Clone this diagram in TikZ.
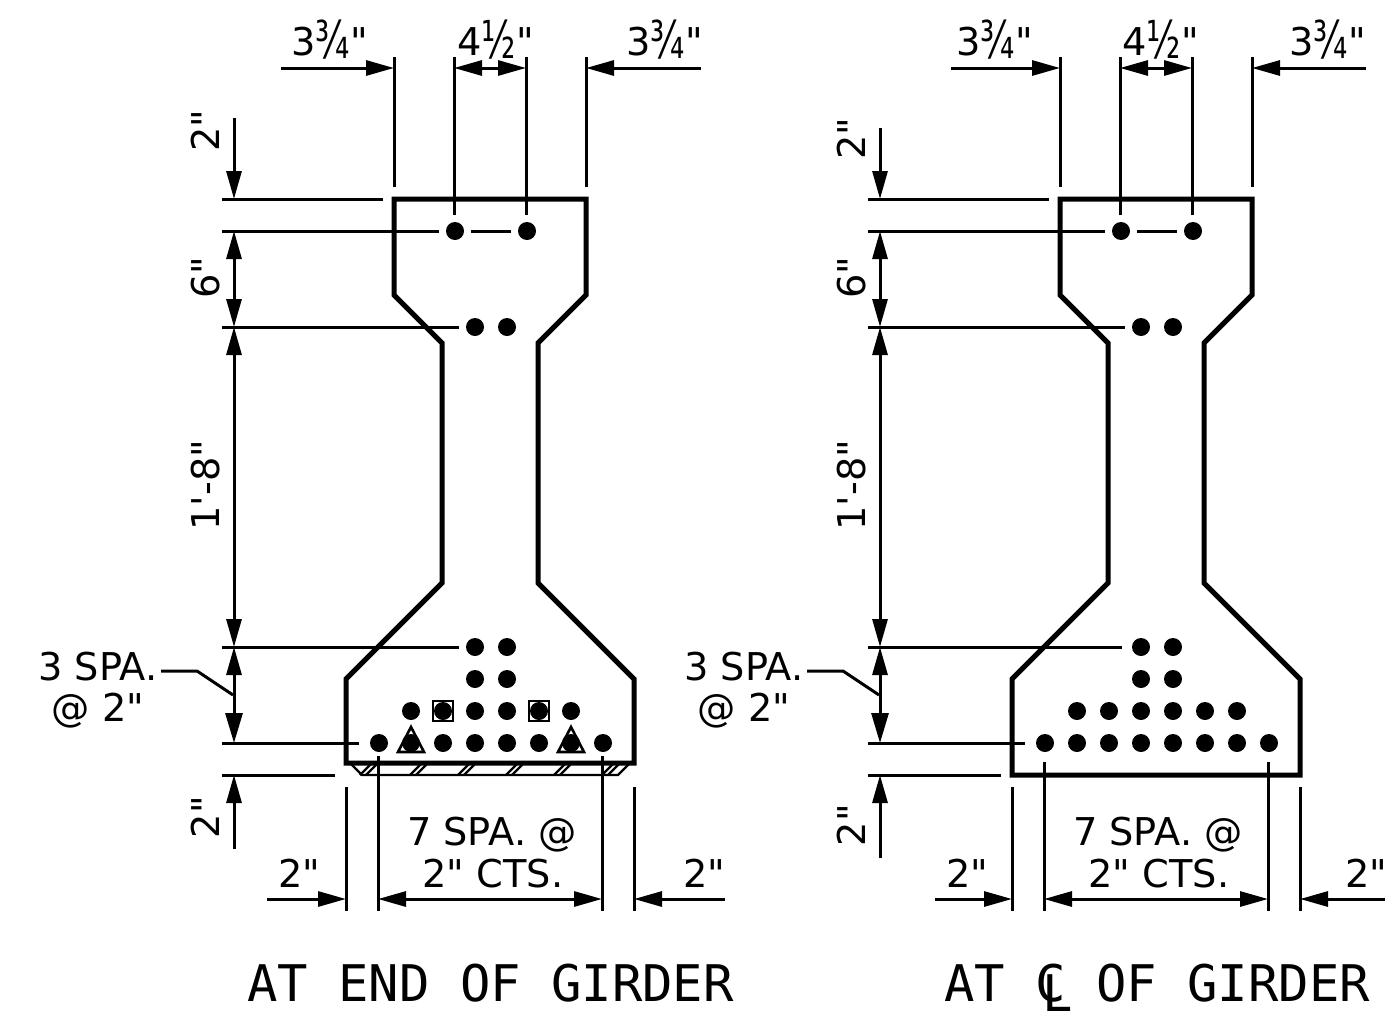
\documentclass[tikz,border=0pt]{standalone}
\usepackage{graphicx}
\usepackage{fontspec}
\setmainfont{DejaVu Sans}[Ligatures=TeXOff]
\newfontfamily\titlefont{DejaVu Sans Mono}[Ligatures=TeXOff]
\usetikzlibrary{arrows.meta}
\newcommand\fracq[2]{#1\raisebox{-3bp}{\scalebox{.68}[1]{\fontsize{52bp}{54bp}\selectfont #2}}"}
\tikzset{
  x=1bp,y=-1bp,
  girder/.style={line width=5bp,line join=miter},
  thin line/.style={line width=3bp},
  hatch line/.style={line width=2.4bp},
  dim/.style={line width=3bp,{Triangle[length=28bp,width=15bp]}-{Triangle[length=28bp,width=15bp]}},
  dimend/.style={line width=3bp,-{Triangle[length=28bp,width=15bp]}},
  dimbig/.style={line width=3bp,{Triangle[length=28bp,width=15bp]}-{Triangle[length=30bp,width=17bp]}},
  dotmark/.style={circle,fill=black,draw=none,minimum size=18bp,inner sep=0pt},
  lbl/.style={font=\fontsize{38.3bp}{42bp}\selectfont,anchor=base,inner sep=0pt},
  vlbl/.style={lbl,rotate=90},
  ttl/.style={font=\fontsize{50.5bp}{54bp}\selectfont\titlefont,anchor=base,inner sep=0pt},
  box/.style={draw,line width=2.4bp,minimum size=20bp,inner sep=0pt},
  tri/.style={line width=2.6bp,line join=miter}
}
\begin{document}
\begin{tikzpicture}
\useasboundingbox (0,0) rectangle (1385,1015);
\fill[white] (0,0) rectangle (1385,1015);
% ---------- LEFT ----------
\draw[girder] (394,199)--(586,199)--(586,295)--(538,343)--(538,583)--(634,679)--(634,763)--(346,763)--(346,679)--(442,583)--(442,343)--(394,295)--cycle;
\draw[hatch line] (350,763)--(362,775)--(618,775)--(630,763);
\foreach \x in {360,410,458,506,554,602}{
  \draw[hatch line] (\x,775)--(\x+12,763);
  \draw[hatch line] (\x+6,775)--(\x+18,763);
}
\foreach \x/\y/\n in {455/231/a,527/231/b,475/327/c,507/327/d,475/647/e,507/647/f,475/679/g,507/679/h,
  411/711/i,443/711/j,475/711/k,507/711/l,539/711/m,571/711/n,
  379/743/o,411/743/p,443/743/q,475/743/r,507/743/s,539/743/t,571/743/u,603/743/v}
  \node[dotmark] (L\n) at (\x,\y) {};
\node[box] (Lbox1) at (443,711) {};
\node[box] (Lbox2) at (539,711) {};
\draw[tri] (411,727)--(424,752)--(398,752)--cycle;
\draw[tri] (571,727)--(584,752)--(558,752)--cycle;
% extension lines
\draw[thin line] (222,199)--(383,199);
\draw[thin line] (222,231)--(439,231);
\draw[thin line] (471,231)--(511,231);
\draw[thin line] (222,327)--(459,327);
\draw[thin line] (222,647)--(459,647);
\draw[thin line] (222,743)--(359,743);
\draw[thin line] (222,775)--(335,775);
\draw[thin line] (394,57)--(394,187);
\draw[thin line] (454,57)--(454,215);
\draw[thin line] (526,57)--(526,215);
\draw[thin line] (586,57)--(586,187);
\draw[thin line] (346,787)--(346,911);
\draw[thin line] (378,756)--(378,911);
\draw[thin line] (602,756)--(602,911);
\draw[thin line] (634,787)--(634,911);
% dimensions
\draw[dimend] (281,68)--(394,68);
\draw[dim] (454,68)--(526,68);
\draw[dimend] (701,68)--(586,68);
\draw[dimend] (234,118)--(234,199);
\draw[dim] (234,231)--(234,327);
\draw[dim] (234,327)--(234,647);
\draw[dimbig] (234,647)--(234,743);
\draw[dimend] (234,849)--(234,775);
\draw[dimend] (267,899)--(346,899);
\draw[dim] (378,899)--(602,899);
\draw[dimend] (725,899)--(634,899);
\draw[thin line] (161,671)--(197,671)--(233,695);
% labels
\node[lbl] (La1) at (329.5,55) {\fracq{3}{¾}};
\node[lbl] (La2) at (495.5,55) {\fracq{4}{½}};
\node[lbl] (La3) at (664.5,55) {\fracq{3}{¾}};
\node[vlbl] (Lb1) at (219,131) {2"};
\node[vlbl] (Lb2) at (219,278) {6"};
\node[vlbl] (Lb3) at (219,485) {1'-8"};
\node[vlbl] (Lb4) at (219,817) {2"};
\node[lbl] (Lc1) at (98,680) {3 SPA.};
\node[lbl] (Lc2) at (98,721) {@ 2"};
\node[lbl] (Ld1) at (492,845) {7 SPA. @};
\node[lbl] (Ld2) at (493,887) {2" CTS.};
\node[lbl] (Ld3) at (299,887) {2"};
\node[lbl] (Ld4) at (704,887) {2"};
\node[ttl] (Lt) at (490.5,1001) {AT END OF GIRDER};
% ---------- RIGHT ----------
\draw[girder] (1060,199)--(1252,199)--(1252,295)--(1204,343)--(1204,583)--(1300,679)--(1300,775)--(1012,775)--(1012,679)--(1108,583)--(1108,343)--(1060,295)--cycle;
\foreach \x/\y/\n in {1121/231/a,1193/231/b,1141/327/c,1173/327/d,1141/647/e,1173/647/f,1141/679/g,1173/679/h,
  1077/711/i,1109/711/j,1141/711/k,1173/711/l,1205/711/m,1237/711/n,
  1045/743/o,1077/743/p,1109/743/q,1141/743/r,1173/743/s,1205/743/t,1237/743/u,1269/743/v}
  \node[dotmark] (R\n) at (\x,\y) {};
\draw[thin line] (868,199)--(1049,199);
\draw[thin line] (868,231)--(1105,231);
\draw[thin line] (1137,231)--(1177,231);
\draw[thin line] (868,327)--(1125,327);
\draw[thin line] (868,647)--(1122,647);
\draw[thin line] (868,743)--(1025,743);
\draw[thin line] (868,775)--(1001,775);
\draw[thin line] (1060,57)--(1060,187);
\draw[thin line] (1120,57)--(1120,215);
\draw[thin line] (1192,57)--(1192,215);
\draw[thin line] (1252,57)--(1252,187);
\draw[thin line] (1012,787)--(1012,911);
\draw[thin line] (1044,762)--(1044,911);
\draw[thin line] (1268,762)--(1268,911);
\draw[thin line] (1300,787)--(1300,911);
\draw[dimend] (951,68)--(1060,68);
\draw[dim] (1120,68)--(1192,68);
\draw[dimend] (1366,68)--(1252,68);
\draw[dimend] (880,128)--(880,199);
\draw[dim] (880,231)--(880,327);
\draw[dim] (880,327)--(880,647);
\draw[dimbig] (880,647)--(880,743);
\draw[dimend] (880,858)--(880,775);
\draw[dimend] (935,899)--(1012,899);
\draw[dim] (1044,899)--(1268,899);
\draw[dimend] (1385,899)--(1300,899);
\draw[thin line] (807,671)--(843,671)--(879,695);
\node[lbl] (Ra1) at (994.5,55) {\fracq{3}{¾}};
\node[lbl] (Ra2) at (1160.5,55) {\fracq{4}{½}};
\node[lbl] (Ra3) at (1327.5,55) {\fracq{3}{¾}};
\node[vlbl] (Rb1) at (865,139) {2"};
\node[vlbl] (Rb2) at (865,278) {6"};
\node[vlbl] (Rb3) at (865,485) {1'-8"};
\node[vlbl] (Rb4) at (865,825) {2"};
\node[lbl] (Rc1) at (744,680) {3 SPA.};
\node[lbl] (Rc2) at (744,721) {@ 2"};
\node[lbl] (Rd1) at (1158,845) {7 SPA. @};
\node[lbl] (Rd2) at (1159,887) {2" CTS.};
\node[lbl] (Rd3) at (967,887) {2"};
\node[lbl] (Rd4) at (1366,887) {2"};
\node[ttl] (Rt) at (1157,1001) {AT C OF GIRDER};
\node[ttl] (Rl) at (1058,1011) {L};
\end{tikzpicture}
\end{document}
